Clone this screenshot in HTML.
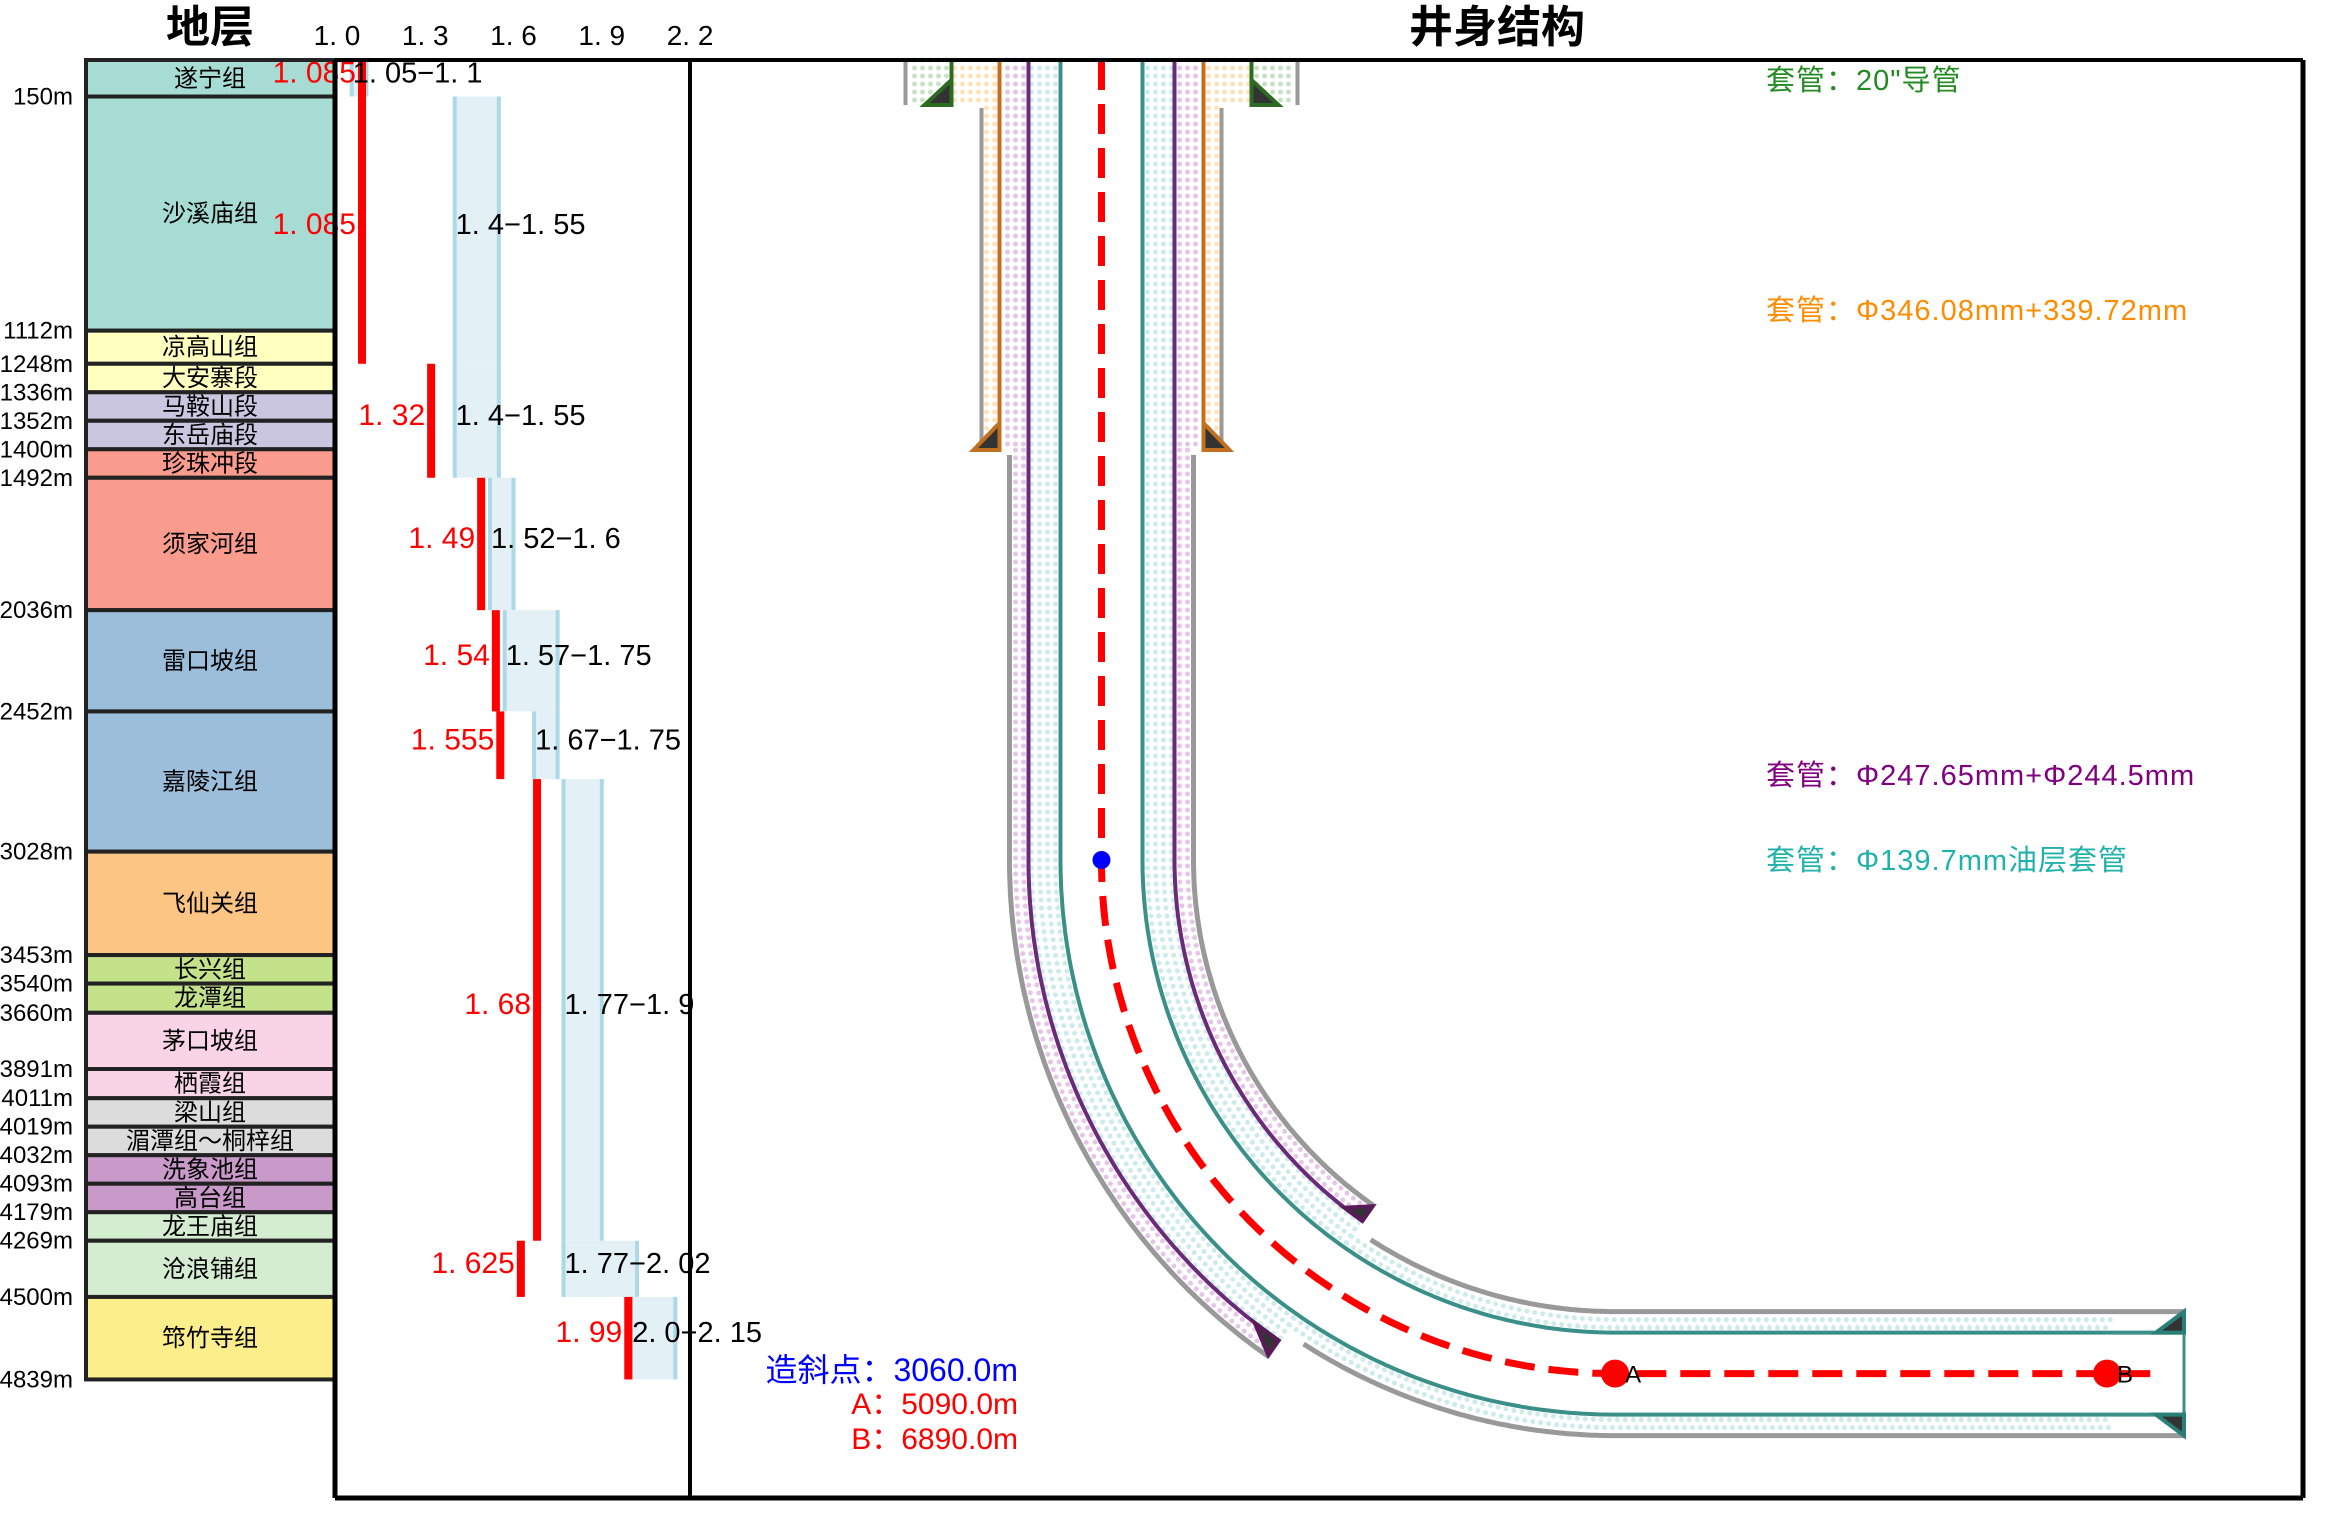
<!DOCTYPE html>
<html><head><meta charset="utf-8">
<style>
html,body{margin:0;padding:0;background:#fff;}
svg{display:block;}
text{font-family:"Liberation Sans","Noto Sans CJK SC",sans-serif;}
</style></head>
<body>
<svg id="chart" width="2341" height="1523" viewBox="0 0 2341 1523" xmlns="http://www.w3.org/2000/svg">
<text x="210" y="42" font-size="44" text-anchor="middle" font-weight="bold">地层</text>
<text x="1497" y="42" font-size="44" text-anchor="middle" font-weight="bold">井身结构</text>
<g id="strata"></g>
<g id="density"></g>
<g id="well"></g>
<g id="frame">
<line x1="335" y1="60" x2="2303" y2="60" stroke="#000" stroke-width="4"/>
<line x1="335" y1="1498" x2="2303" y2="1498" stroke="#000" stroke-width="5"/>
<line x1="335" y1="60" x2="335" y2="1498" stroke="#000" stroke-width="5"/>
<line x1="690" y1="60" x2="690" y2="1498" stroke="#000" stroke-width="4"/>
<line x1="2303" y1="60" x2="2303" y2="1498" stroke="#000" stroke-width="5"/>
</g>
<g id="legend" letter-spacing="1">
<text x="1766" y="90" font-size="29" fill="#228b22">套管：20"导管</text>
<text x="1766" y="320" font-size="29" fill="#ff8c00">套管：Φ346.08mm+339.72mm</text>
<text x="1766" y="785" font-size="29" fill="#800080">套管：Φ247.65mm+Φ244.5mm</text>
<text x="1766" y="870" font-size="29" fill="#20b2aa">套管：Φ139.7mm油层套管</text>
</g>
<g id="notes">
<text x="1018" y="1381" font-size="32" fill="#0000ff" text-anchor="end">造斜点：3060.0m</text>
<text x="1018" y="1414" font-size="30" fill="#ff0000" text-anchor="end">A：5090.0m</text>
<text x="1018" y="1449" font-size="30" fill="#ff0000" text-anchor="end">B：6890.0m</text>
</g>
</svg>
<script>
// ---- strata data ----
const layerNames = ["遂宁组","沙溪庙组","凉高山组","大安寨段","马鞍山段","东岳庙段","珍珠冲段","须家河组","雷口坡组","嘉陵江组","飞仙关组","长兴组","龙潭组","茅口坡组","栖霞组","梁山组","湄潭组～桐梓组","洗象池组","高台组","龙王庙组","沧浪铺组","筇竹寺组"];
const layerBottoms = [150,1112,1248,1336,1352,1400,1492,2036,2452,3028,3453,3540,3660,3891,4011,4019,4032,4093,4179,4269,4500,4839];
const layerColors = ["#a6dcd4","#a6dcd4","#ffffc0","#ffffc0","#cac6e0","#cac6e0","#f99b8d","#f99b8d","#9bbfdb","#9bbfdb","#fcc583","#c4e28a","#c4e28a","#f9d4e6","#f9d4e6","#dcdcdc","#dcdcdc","#c999c9","#c999c9","#d4edd0","#d4edd0","#fdee8c"];
// ---- density data ----
const mudTop = [0,150,1248,1492,2036,2452,2730,4269,4500];
const mudBottom = [150,1248,1492,2036,2452,2730,4269,4500,4839];
const mudActual = [1.085,1.085,1.32,1.49,1.54,1.555,1.68,1.625,1.99];
const mudActualText = ["1. 085","1. 085","1. 32","1. 49","1. 54","1. 555","1. 68","1. 625","1. 99"];
const rangeLow = [1.05,1.4,1.4,1.52,1.57,1.67,1.77,1.77,2.0];
const rangeHigh = [1.1,1.55,1.55,1.6,1.75,1.75,1.9,2.02,2.15];
const rangeText = ["1. 05−1. 1","1. 4−1. 55","1. 4−1. 55","1. 52−1. 6","1. 57−1. 75","1. 67−1. 75","1. 77−1. 9","1. 77−2. 02","2. 0−2. 15"];
const tickValues = [1.0,1.3,1.6,1.9,2.2];
const tickText = ["1. 0","1. 3","1. 6","1. 9","2. 2"];

const NS="http://www.w3.org/2000/svg";
function mk(tag,attrs,parent){const e=document.createElementNS(NS,tag);for(const k in attrs)e.setAttribute(k,attrs[k]);parent.appendChild(e);return e;}

const TOP=60, K=0.2434, MINH=28.5;
const layerY=[TOP];
{let prev=0;for(let i=0;i<layerBottoms.length;i++){const t=layerBottoms[i]-prev;layerY.push(layerY[i]+Math.max(MINH,t*K));prev=layerBottoms[i];}}
function depthY(d){let prev=0;for(let i=0;i<layerBottoms.length;i++){if(d<=layerBottoms[i]){return layerY[i]+(d-prev)/(layerBottoms[i]-prev)*(layerY[i+1]-layerY[i]);}prev=layerBottoms[i];}return layerY[layerY.length-1];}
function densX(v){return 337+(v-1.0)*294.2;}

const sg=document.getElementById('strata');
for(let i=0;i<layerNames.length;i++){
  const y0=layerY[i],y1=layerY[i+1];
  const r=mk('rect',{x:86,y:y0,width:249,height:y1-y0,fill:layerColors[i],stroke:"#222","stroke-width":4},sg);
  
  
  const t=mk('text',{x:210,y:(y0+y1)/2+8,"font-size":24,"text-anchor":"middle",fill:"#000"},sg);
  t.textContent=layerNames[i];
  
  
  const d=mk('text',{x:73,y:y1+8,"font-size":24,"text-anchor":"end",fill:"#000"},sg);
  d.textContent=layerBottoms[i]+"m";
  
  
}

const dg=document.getElementById('density');
tickValues.forEach((v,i)=>{
  const t=mk('text',{x:densX(v),y:45,"font-size":28,"text-anchor":"middle"},dg);
  t.textContent=tickText[i];
  
  
});
for(let i=0;i<mudTop.length;i++){
  const y0=depthY(mudTop[i]),y1=depthY(mudBottom[i]);
  const xl=densX(rangeLow[i]),xh=densX(rangeHigh[i]);
  const b=mk('rect',{x:xl,y:y0,width:xh-xl,height:y1-y0,fill:"#e3f1f7"},dg);
  
  
  mk('line',{x1:xl,y1:y0,x2:xl,y2:y1,stroke:"#add8e6","stroke-width":4},dg);
  mk('line',{x1:xh,y1:y0,x2:xh,y2:y1,stroke:"#add8e6","stroke-width":4},dg);
}
for(let i=0;i<mudTop.length;i++){
  const y0=depthY(mudTop[i]),y1=depthY(mudBottom[i]);
  const xa=densX(mudActual[i]);
  const r=mk('rect',{x:xa-4,y:y0,width:8,height:y1-y0,fill:"#ff0000"},dg);
  
  
  const ym=(y0+y1)/2+4;
  const t=mk('text',{x:xa-6,y:ym,"font-size":30,"text-anchor":"end",fill:"#ff0000"},dg);
  t.textContent=mudActualText[i];
  
  
  const t2=mk('text',{x:densX(rangeLow[i])+1,y:ym,"font-size":29,fill:"#000"},dg);
  t2.textContent=rangeText[i];
  
  
}

const wg=document.getElementById('well');
const CX=1101.5, KOPY=860, R=513.6, LV=KOPY-TOP, LA=R*Math.PI/2;
const ARCCX=CX+R;
function P(s,o){
  if(s<=LV) return [CX+o,TOP+s];
  if(s<=LV+LA){const th=(s-LV)/R, r=R-o;return [ARCCX-r*Math.cos(th),KOPY+r*Math.sin(th)];}
  return [ARCCX+(s-LV-LA),KOPY+R-o];
}
function pathD(s0,s1,o){let d="";const n=Math.max(2,Math.ceil((s1-s0)/4));for(let i=0;i<=n;i++){const p=P(s0+(s1-s0)*i/n,o);d+=(i?"L":"M")+p[0].toFixed(1)+" "+p[1].toFixed(1);}return d;}
function line(s0,s1,o,color,w,name,extra){
  const e=mk('path',Object.assign({d:pathD(s0,s1,o),fill:"none",stroke:color,"stroke-width":w},extra||{}),wg);
  
  
  return e;
}
function band(s0,s1,o1,o2,color,name){
  for(const sg2 of [-1,1]){for(let o=o1+5;o<=o2-3;o+=8){line(s0,s1,sg2*o,color,5,name,{"stroke-dasharray":"0 8","stroke-linecap":"round"});}}
}
function shoe(s,o,w,L,stroke,name){
  const sg2=o<0?-1:1;const a=P(s,o),b=P(s,o+sg2*w),c=P(s-L,o);
  const e=mk('polygon',{points:[a,b,c].map(p=>p.join(",")).join(" "),fill:"#333",stroke:stroke,"stroke-width":4,"stroke-linejoin":"miter"},wg);
  
  
}
const SP=800+0.96*R, SEND=LV+LA+(2184-ARCCX), SDOT=LV+LA+(2113-ARCCX);
band(0,45,150,196,"#c8e2c8","conductor-cement");
band(0,45,102,150,"#ffe2bc","surface-cement");
band(48,390,102,120,"#ffe2bc","surface-cement");
band(0,390,73,102,"#e6c6e6","intermediate-cement");
band(390,SP,73,92,"#e6c6e6","intermediate-cement");
band(0,SP,41,73,"#cdebe9","production-cement");
band(SP,SDOT,41,62,"#cdebe9","production-cement");
for(const s of [-1,1]){
  line(0,45,s*196,"#999",4,"hole-wall");
  line(48,390,s*120,"#999",4,"hole-wall");
  line(395,SP,s*92,"#999",5,"hole-wall");
  line(SP+20,SEND,s*62,"#999",5,"hole-wall");
  line(0,45,s*150,"#2e6b22",4,"conductor-casing");
  line(0,390,s*102,"#c0701e",4,"surface-casing");
  line(0,SP,s*73,"#6a2a78",4,"intermediate-casing");
  line(0,SEND,s*41,"#3a8f88",4,"production-casing");
}
{const a=P(SEND,-41),b=P(SEND,41);const e=mk('line',{x1:a[0],y1:a[1],x2:b[0],y2:b[1],stroke:"#3a8f88","stroke-width":3},wg);

}
for(const s of [-1,1]){
  shoe(45,s*150,27,25,"#2e6b22","conductor-shoe");
  shoe(390,s*102,26,27,"#c0701e","surface-shoe");
  shoe(SP,s*73,18,26,"#5a1a5a","intermediate-shoe");
  shoe(SEND,s*41,21,28,"#2a7f78","production-shoe");
}
line(0,LV+LA+(2157-ARCCX),0,"#ff0000",7,"well-trajectory",{"stroke-dasharray":"30 14"});
{const e=mk('circle',{cx:CX,cy:KOPY,r:9,fill:"#0000ff"},wg);

}
const ptX=[ARCCX,2107], ptLabel=["A","B"];
ptX.forEach((x,i)=>{
  const c=mk('circle',{cx:x,cy:KOPY+R,r:14,fill:"#ff0000"},wg);
  
  
  const t=mk('text',{x:x+10,y:KOPY+R+9,"font-size":24,fill:"#000"},wg);
  t.textContent=ptLabel[i];
  
  
});
</script>
</body></html>
